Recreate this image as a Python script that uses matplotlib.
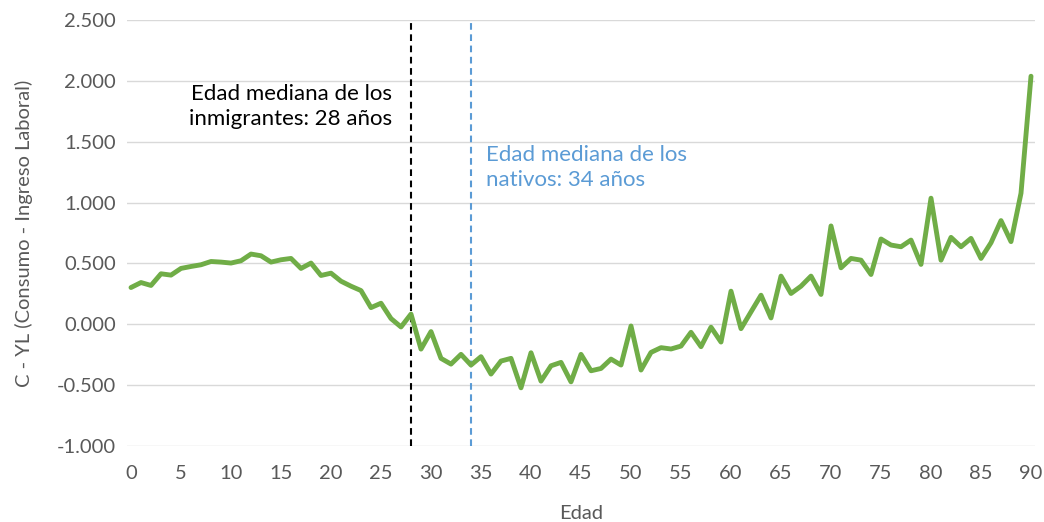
import matplotlib
matplotlib.use("Agg")
import matplotlib.pyplot as plt
from matplotlib.ticker import FuncFormatter, MultipleLocator

# Age profile of consumption minus labour income
ages = list(range(0, 91))
c_minus_yl = [
    0.302, 0.343, 0.319, 0.415, 0.404, 0.459, 0.475, 0.489, 0.516, 0.511,
    0.503, 0.522, 0.577, 0.563, 0.511, 0.530, 0.541, 0.459, 0.503, 0.401,
    0.420, 0.354, 0.313, 0.277, 0.137, 0.173, 0.047, -0.022, 0.084, -0.204,
    -0.060, -0.280, -0.327, -0.247, -0.335, -0.266, -0.409, -0.302, -0.280, -0.522,
    -0.234, -0.467, -0.341, -0.313, -0.473, -0.247, -0.382, -0.363, -0.286, -0.335,
    -0.014, -0.376, -0.231, -0.192, -0.203, -0.179, -0.066, -0.184, -0.024, -0.146,
    0.272, -0.036, 0.102, 0.239, 0.052, 0.396, 0.253, 0.313, 0.396, 0.245,
    0.808, 0.464, 0.541, 0.527, 0.409, 0.701, 0.651, 0.637, 0.692, 0.492,
    1.036, 0.527, 0.714, 0.637, 0.706, 0.541, 0.670, 0.852, 0.679, 1.077,
    2.038,
]

median_age_immigrants = 28
median_age_natives = 34
label_immigrants = "Edad mediana de los\ninmigrantes: 28 años"
label_natives = "Edad mediana de los\nnativos: 34 años"

plt.rcParams["font.family"] = ["Lato", "DejaVu Sans"]

GREEN = "#70AD47"
BLUE = "#5B9BD5"
TEXT = "#595959"
GRID = "#D9D9D9"

fig = plt.figure(figsize=(10.44, 5.22), dpi=100)
ax = fig.add_axes([127 / 1044, 1 - 446 / 522, (1035 - 127) / 1044, (446 - 20) / 522])

ax.plot(ages, c_minus_yl, color=GREEN, linewidth=3.5, solid_joinstyle="round",
        solid_capstyle="round", zorder=3)

ax.axvline(median_age_immigrants, color="black", linestyle=(0, (3.2, 2.2)),
           linewidth=1.5, zorder=2)
ax.axvline(median_age_natives, color=BLUE, linestyle=(0, (3.2, 2.2)),
           linewidth=1.5, zorder=2)

ax.text(median_age_immigrants - 1.9, 1.79, label_immigrants, ha="right", va="center",
        fontsize=16, color="black", linespacing=1.3)
ax.text(median_age_natives + 1.5, 1.29, label_natives, ha="left", va="center",
        fontsize=16, color=BLUE, linespacing=1.3)

ax.set_xlim(-0.4, 90.4)
ax.set_ylim(-1.0, 2.5)
ax.xaxis.set_major_locator(MultipleLocator(5))
ax.yaxis.set_major_locator(MultipleLocator(0.5))
ax.yaxis.set_major_formatter(FuncFormatter(lambda v, _: f"{v:.3f}"))

ax.grid(axis="y", color=GRID, linewidth=1.0, zorder=0)
ax.set_axisbelow(True)
for side in ("top", "right", "left", "bottom"):
    ax.spines[side].set_visible(False)
ax.tick_params(axis="both", length=0, labelsize=14.5, labelcolor=TEXT)
ax.tick_params(axis="x", pad=14)
ax.tick_params(axis="y", pad=8)

ax.set_xlabel("Edad", fontsize=14.5, color=TEXT, labelpad=16)
ax.set_ylabel("C - YL (Consumo - Ingreso Laboral)", fontsize=14.5, color=TEXT, labelpad=17)

fig.savefig("out.png", dpi=100)
